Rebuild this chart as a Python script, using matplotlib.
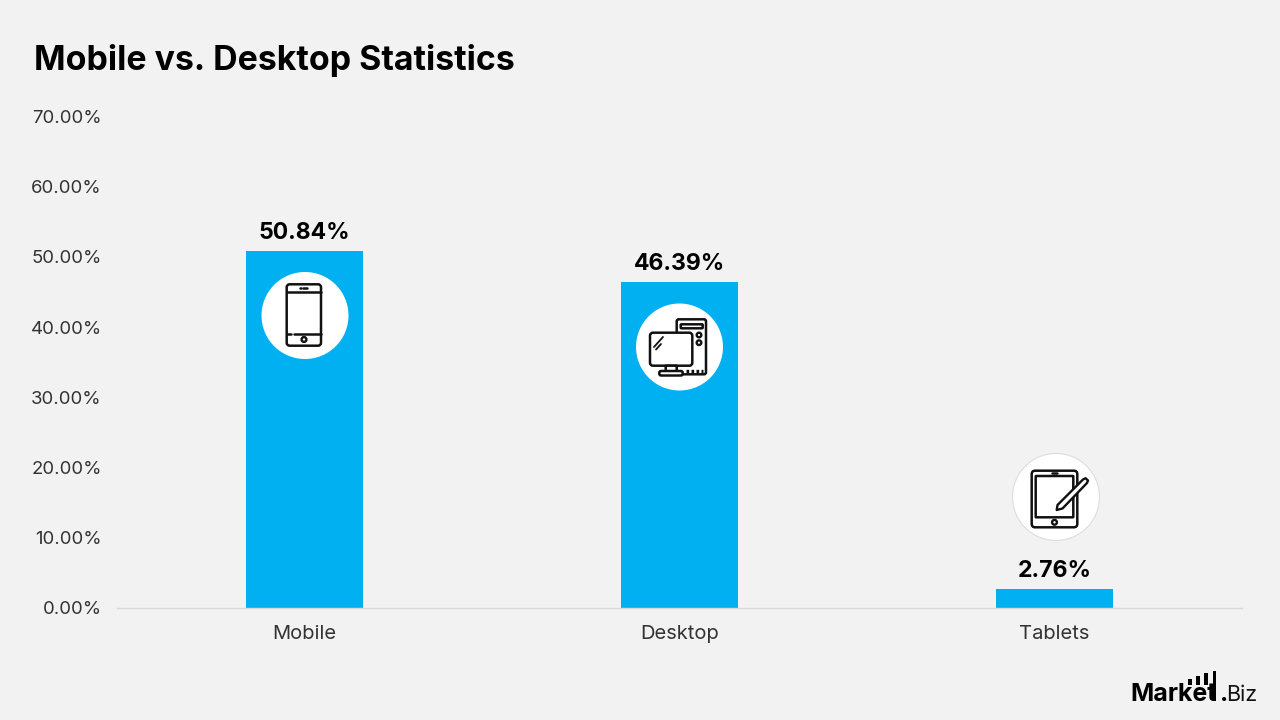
import matplotlib
matplotlib.use("Agg")
import matplotlib.pyplot as plt
from matplotlib.patches import Circle, FancyBboxPatch, Polygon, Rectangle

categories = ["Mobile", "Desktop", "Tablets"]
shares = [50.84, 46.39, 2.76]
y_ticks = [0, 10, 20, 30, 40, 50, 60, 70]

BG = "#F2F2F2"
BLUE = "#00B0F0"
INK = "#111111"

plt.rcParams["font.family"] = ["Inter", "DejaVu Sans"]

fig = plt.figure(figsize=(12.8, 7.2), dpi=100, facecolor=BG)
ax = fig.add_axes([117 / 1280, 1 - 608 / 720, 1125 / 1280, 491.5 / 720], facecolor=BG)

bars = ax.bar(categories, shares, width=0.313, color=BLUE, zorder=2)
ax.set_xlim(-0.5, 2.5)
ax.set_ylim(0, 70)
ax.set_yticks(y_ticks)
ax.set_yticklabels([f"{v:.2f}%" for v in y_ticks], fontsize=13.4, color="#333333")
ax.tick_params(axis="y", length=0, pad=11)
ax.tick_params(axis="x", length=0, pad=12.5, labelsize=14.5, labelcolor="#333333")
for side in ["top", "right", "left"]:
    ax.spines[side].set_visible(False)
ax.spines["bottom"].set_color("#D9D9D9")
ax.spines["bottom"].set_linewidth(1)

ax.bar_label(bars, labels=[f"{v:.2f}%" for v in shares], padding=5,
             fontsize=16.6, fontweight="bold", color="black")

fig.text(34 / 1280, 1 - 70 / 720, "Mobile vs. Desktop Statistics",
         fontsize=24.4, fontweight="bold", color="black", ha="left", va="baseline")

# overlay in pixel coordinates for the icons and the logo
ov = fig.add_axes([0, 0, 1, 1], facecolor="none", zorder=5)
ov.set_xlim(0, 1280)
ov.set_ylim(720, 0)
ov.axis("off")


def rrect(x0, y0, x1, y1, r=2.5, fc="none", lw=1.8, z=7):
    ov.add_patch(FancyBboxPatch((x0 + r, y0 + r), x1 - x0 - 2 * r, y1 - y0 - 2 * r,
                                boxstyle=f"round,pad={r},rounding_size={r}",
                                fc=fc, ec=INK, lw=lw, zorder=z))


def line(xs, ys, lw=1.8, z=7):
    ov.plot(xs, ys, color=INK, lw=lw, solid_capstyle="round", zorder=z)


def dot(x, y, r=2.4, z=7):
    ov.add_patch(Circle((x, y), r, fc="white", ec=INK, lw=1.7, zorder=z))


def draw_phone():
    ov.add_patch(Circle((305, 315.5), 43.5, fc="white", ec="none", zorder=6))
    rrect(286.7, 284.3, 321, 345.7, r=3)
    line([287, 321], [291.7, 291.7])
    line([287, 291], [333.7, 333.7])
    line([294, 321], [333.7, 333.7])
    line([300, 300.5], [288.2, 288.2])
    line([303, 307], [288.2, 288.2])
    dot(304, 339.5)


def draw_desktop():
    ov.add_patch(Circle((679.5, 347), 43.5, fc="white", ec="none", zorder=6))
    rrect(676.7, 319.3, 706, 374.3, r=2)
    rrect(680.7, 324.3, 702.7, 328.3, r=0.8)
    dot(699, 335, r=2.3)
    dot(699, 342.7, r=2.3)
    rrect(650, 332.7, 692.3, 365.7, r=3, fc="white", z=8)
    line([654, 663], [347, 337], lw=1.3, z=9)
    line([656, 661], [349.5, 344], lw=1.3, z=9)
    rrect(665.7, 365.7, 676.7, 371.5, r=0.2, fc="white", z=8)
    rrect(659.3, 371, 682.7, 375.5, r=1.8, fc="white", z=9)
    ov.plot([686, 703], [371, 371], color=INK, lw=2.4, ls=(0, (0.8, 0.7)), zorder=7)


def draw_tablet():
    ov.add_patch(Circle((1056, 497), 43.5, fc="white", ec="#DDDDDD", lw=0.8, zorder=6))
    rrect(1031.7, 470.7, 1077.3, 527.3, r=3.5)
    rrect(1035.7, 476, 1073.3, 517.3, r=0.5)
    line([1052, 1057], [473.4, 473.4])
    dot(1054.5, 522.3)
    ov.add_patch(Polygon([(1056.7, 510), (1057.5, 505), (1083, 479.5), (1085.5, 478.2),
                          (1088, 480.5), (1087, 483), (1062.5, 508.5)],
                         closed=True, fc="white", ec=INK, lw=1.7, joinstyle="round", zorder=8))


draw_phone()
draw_desktop()
draw_tablet()

# logo mark: wordmark with rising bars over it
for x, top in [(1188, 679), (1196, 676), (1204, 673)]:
    ov.add_patch(Rectangle((x, top), 3.6, 684.5 - top, fc="black", ec="none", zorder=4))
ov.add_patch(Rectangle((1212.5, 670.5), 3.6, 30, fc="black", ec="none", zorder=4))
ov.text(1130, 701, "Market", fontsize=18, fontweight="bold", color="black",
        ha="left", va="baseline", zorder=5)
ov.text(1220, 701, ".", fontsize=18, fontweight="bold", color="black",
        ha="left", va="baseline", zorder=5)
ov.text(1226.5, 701, "Biz", fontsize=15.5, color="#111111", ha="left", va="baseline", zorder=5)

fig.savefig("out.png", dpi=100, facecolor=BG)
